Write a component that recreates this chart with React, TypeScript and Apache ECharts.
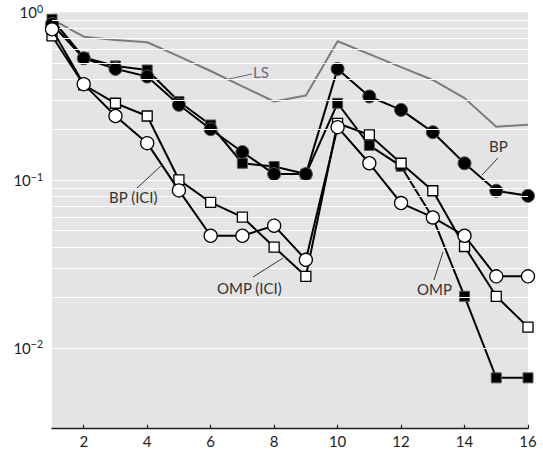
import React, { useEffect, useRef } from "react";
import * as echarts from "echarts";

const xValues = [1, 2, 3, 4, 5, 6, 7, 8, 9, 10, 11, 12, 13, 14, 15, 16];
const lsValues = [0.906, 0.716, 0.684, 0.663, 0.546, 0.447, 0.362, 0.294, 0.319, 0.672, 0.563, 0.471, 0.395, 0.308, 0.208, 0.214];
const bpValues = [0.852, 0.532, 0.46, 0.414, 0.281, 0.201, 0.147, 0.1086, 0.1086, 0.46, 0.315, 0.262, 0.193, 0.126, 0.0864, 0.0806];
const ompValues = [0.909, 0.538, 0.479, 0.453, 0.294, 0.213, 0.126, 0.1205, 0.1086, 0.287, 0.161, 0.121, 0.0597, 0.0203, 0.00663, 0.00663];
const bpIciValues = [0.792, 0.373, 0.241, 0.166, 0.0868, 0.0466, 0.0466, 0.0535, 0.0335, 0.2068, 0.126, 0.073, 0.0599, 0.0466, 0.0267, 0.0267];
const ompIciValues = [0.723, 0.37, 0.287, 0.241, 0.1004, 0.0736, 0.0602, 0.0399, 0.0267, 0.218, 0.186, 0.126, 0.0864, 0.0402, 0.0203, 0.0133];
const xTicks = [2, 4, 6, 8, 10, 12, 14, 16];
const gridValues = [0.004, 0.005, 0.006, 0.007, 0.008, 0.009, 0.01, 0.02, 0.03, 0.04, 0.05, 0.06, 0.07, 0.08, 0.09, 0.1, 0.2, 0.3, 0.4, 0.5, 0.6, 0.7, 0.8, 0.9];

const FONT = "Lato, 'Open Sans', sans-serif";

function pairs(vals: number[]) {
  return vals.map((v, i) => [xValues[i], v]);
}

export default function App() {
  const ref = useRef<HTMLDivElement>(null);
  useEffect(() => {
    if (!ref.current) return;
    const chart = echarts.init(ref.current, undefined, { renderer: "svg" });
    const openStyle = { color: "#fff", borderColor: "#000", borderWidth: 1.3 };
    const filledStyle = { color: "#000", borderColor: "#555", borderWidth: 1 };
    chart.setOption({
      animation: false,
      backgroundColor: "#fff",
      grid: {
        left: 52,
        right: 15,
        top: 12.3,
        bottom: 28.3,
        show: true,
        backgroundColor: "#e4e4e6",
        borderWidth: 0,
      },
      xAxis: {
        type: "value",
        min: 1,
        max: 16,
        axisLine: { show: true, lineStyle: { color: "#222", width: 1.4 } },
        axisTick: { show: true, inside: true, length: 4, customValues: xTicks, lineStyle: { color: "#222", width: 1.2 } },
        axisLabel: { customValues: xTicks, fontSize: 15, fontFamily: FONT, color: "#222", margin: 5 },
        splitLine: { show: false },
      },
      yAxis: {
        type: "log",
        logBase: 10,
        min: 0.0033,
        max: 1,
        axisLine: { show: false },
        axisTick: { show: false },
        splitLine: { show: false },
        axisLabel: {
          margin: 9,
          formatter: (v: number) => {
            const l = Math.log10(v);
            const e = Math.round(l);
            if (Math.abs(l - e) > 1e-6) return "";
            return `{b|10}{s|${e === 0 ? "0" : "\u2212" + -e}}`;
          },
          rich: {
            b: { fontSize: 15, fontFamily: FONT, color: "#222", lineHeight: 18 },
            s: { fontSize: 10.5, fontFamily: FONT, color: "#222", verticalAlign: "top", lineHeight: 8 },
          },
        },
      },
      series: [
        {
          type: "line",
          name: "grid",
          data: [],
          z: 1,
          silent: true,
          markLine: {
            silent: true,
            symbol: ["none", "none"],
            label: { show: false },
            lineStyle: { color: "#ffffff", width: 1, type: "solid" },
            data: gridValues.map((v) => ({ yAxis: v })),
          },
        },
        {
          type: "line",
          name: "LS",
          data: pairs(lsValues),
          symbol: "none",
          z: 2,
          lineStyle: { color: "#7b7b7b", width: 2 },
          itemStyle: { color: "#7b7b7b" },
        },
        {
          type: "line",
          name: "OMP",
          data: pairs(ompValues),
          symbol: "rect",
          symbolSize: 10,
          z: 3,
          lineStyle: { color: "#000", width: 2 },
          itemStyle: filledStyle,
        },
        {
          type: "line",
          name: "BP",
          data: pairs(bpValues),
          symbol: "circle",
          symbolSize: 13,
          z: 4,
          lineStyle: { color: "#000", width: 2 },
          itemStyle: filledStyle,
        },
        {
          type: "line",
          name: "OMP (ICI)",
          data: pairs(ompIciValues),
          symbol: "rect",
          symbolSize: 10,
          z: 5,
          lineStyle: { color: "#000", width: 2 },
          itemStyle: openStyle,
        },
        {
          type: "line",
          name: "BP (ICI)",
          data: pairs(bpIciValues),
          symbol: "circle",
          symbolSize: 13,
          z: 6,
          lineStyle: { color: "#000", width: 2 },
          itemStyle: openStyle,
        },
      ],
      graphic: [
        { type: "line", shape: { x1: 229, y1: 79, x2: 252, y2: 74 }, style: { stroke: "#6e6e6e", lineWidth: 1 }, z: 10 },
        { type: "text", x: 253, y: 72, style: { text: "LS", fontSize: 15, fontFamily: FONT, fill: "#6e6e6e", align: "left", verticalAlign: "middle" }, z: 10 },
        { type: "line", shape: { x1: 137, y1: 188, x2: 162, y2: 165 }, style: { stroke: "#333", lineWidth: 1 }, z: 10 },
        { type: "text", x: 109, y: 197, style: { text: "BP (ICI)", fontSize: 15, fontFamily: FONT, fill: "#333", align: "left", verticalAlign: "middle" }, z: 10 },
        { type: "line", shape: { x1: 253, y1: 277, x2: 283, y2: 258 }, style: { stroke: "#333", lineWidth: 1 }, z: 10 },
        { type: "text", x: 217, y: 288, style: { text: "OMP (ICI)", fontSize: 15, fontFamily: FONT, fill: "#333", align: "left", verticalAlign: "middle" }, z: 10 },
        { type: "line", shape: { x1: 434, y1: 280, x2: 443, y2: 252 }, style: { stroke: "#333", lineWidth: 1 }, z: 10 },
        { type: "text", x: 417, y: 289, style: { text: "OMP", fontSize: 15, fontFamily: FONT, fill: "#333", align: "left", verticalAlign: "middle" }, z: 10 },
        { type: "line", shape: { x1: 498, y1: 158, x2: 482, y2: 175 }, style: { stroke: "#333", lineWidth: 1 }, z: 10 },
        { type: "text", x: 489, y: 146, style: { text: "BP", fontSize: 15, fontFamily: FONT, fill: "#333", align: "left", verticalAlign: "middle" }, z: 10 },
      ],
    });
    return () => chart.dispose();
  }, []);
  return <div ref={ref} style={{ width: 543, height: 457, position: "absolute", left: 0, top: 0 }} />;
}
